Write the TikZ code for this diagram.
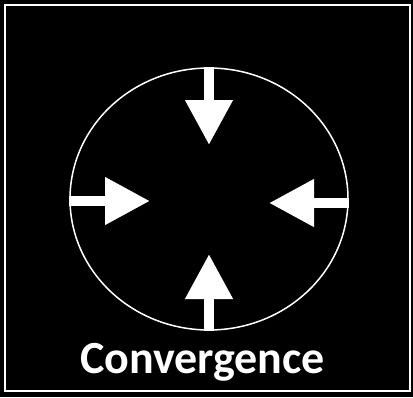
\documentclass[tikz,border=0pt]{standalone}
\usepackage{fontspec}
\setmainfont{Carlito}
\usetikzlibrary{arrows.meta,shapes.geometric}

\begin{document}
\begin{tikzpicture}[x=1pt,y=-1pt,
  frame/.style={draw=white,line width=2pt},
  ring/.style={draw=white,line width=1.5pt,ellipse,minimum width=278pt,
  minimum height=262pt,inner sep=0pt},
  push/.style={white,line width=10.5pt,-{Triangle[width=45pt,length=45pt]}},
  caption/.style={text=white,inner sep=0pt,font=\fontsize{46}{50}\selectfont\bfseries}]
  % background and frame
  \fill[black] (0,0) rectangle (413,397);
  \useasboundingbox (0,0) rectangle (413,397);
  \draw[frame] (5,5) rectangle (410,391);
  \node[ring] (ring) at (209,199) {};
  % arrow tips
  \coordinate (tipN) at (209,145);
  \coordinate (tipS) at (209,254);
  \coordinate (tipW) at (150,201);
  \coordinate (tipE) at (269,203);
  \draw[push] (ring.north) -- (tipN);
  \draw[push] (ring.south) -- (tipS);
  \draw[push] (ring.west |- tipW) -- (tipW);
  \draw[push] (ring.east |- tipE) -- (tipE);
  \node[caption,anchor=base] (label) at (202.5,373) {Convergence};
\end{tikzpicture}
\end{document}
